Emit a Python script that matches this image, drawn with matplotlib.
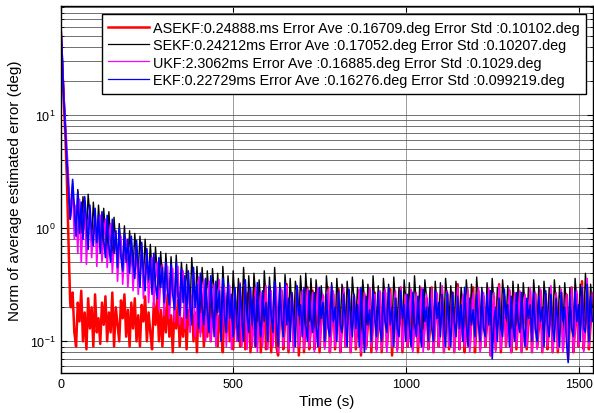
""" Error norm comparison of ASEKF / SEKF / UKF / EKF """
import matplotlib
matplotlib.use('Agg')
import matplotlib.pyplot as plt

plt.rcParams['font.family'] = ['Liberation Sans', 'DejaVu Sans']

# time axis (s)
time_s = [0, 2, 4, 6, 8, 10, 12, 14, 16, 18, 20, 22, 24, 26, 28,
          30, 35, 40, 45, 50, 55, 60, 65, 70, 75, 80, 85, 90, 95, 100, 105, 110, 115, 120, 125,
          130, 135, 140, 145, 150, 155, 160, 165, 170, 175, 180, 185, 190, 195, 200, 205, 210, 215, 220, 225,
          230, 235, 240, 245, 250, 255, 260, 265, 270, 275, 280, 285, 290, 295, 300, 305, 310, 315, 320, 325,
          330, 335, 340, 345, 350, 355, 360, 365, 370, 375, 380, 385, 390, 395, 400, 405, 410, 415, 420, 425,
          430, 435, 440, 445, 450, 455, 460, 465, 470, 475, 480, 485, 490, 495, 500, 505, 510, 515, 520, 525,
          530, 535, 540, 545, 550, 555, 560, 565, 570, 575, 580, 585, 590, 595, 600, 605, 610, 615, 620, 625,
          630, 635, 640, 645, 650, 655, 660, 665, 670, 675, 680, 685, 690, 695, 700, 705, 710, 715, 720, 725,
          730, 735, 740, 745, 750, 755, 760, 765, 770, 775, 780, 785, 790, 795, 800, 805, 810, 815, 820, 825,
          830, 835, 840, 845, 850, 855, 860, 865, 870, 875, 880, 885, 890, 895, 900, 905, 910, 915, 920, 925,
          930, 935, 940, 945, 950, 955, 960, 965, 970, 975, 980, 985, 990, 995, 1000, 1005, 1010, 1015, 1020, 1025,
          1030, 1035, 1040, 1045, 1050, 1055, 1060, 1065, 1070, 1075, 1080, 1085, 1090, 1095, 1100, 1105, 1110, 1115, 1120, 1125,
          1130, 1135, 1140, 1145, 1150, 1155, 1160, 1165, 1170, 1175, 1180, 1185, 1190, 1195, 1200, 1205, 1210, 1215, 1220, 1225,
          1230, 1235, 1240, 1245, 1250, 1255, 1260, 1265, 1270, 1275, 1280, 1285, 1290, 1295, 1300, 1305, 1310, 1315, 1320, 1325,
          1330, 1335, 1340, 1345, 1350, 1355, 1360, 1365, 1370, 1375, 1380, 1385, 1390, 1395, 1400, 1405, 1410, 1415, 1420, 1425,
          1430, 1435, 1440, 1445, 1450, 1455, 1460, 1465, 1470, 1475, 1480, 1485, 1490, 1495, 1500, 1505, 1510, 1515, 1520, 1525,
          1530, 1535, 1540]

asekf_err = [48, 40, 30, 22, 16, 12, 9.0, 6.5, 4.5, 3.0, 1.8, 1.0, 0.6, 0.35, 0.22,
             0.2, 0.27, 0.12, 0.09, 0.22, 0.15, 0.28, 0.1, 0.18, 0.085,
             0.24, 0.13, 0.2, 0.09, 0.26, 0.12, 0.16, 0.095, 0.22, 0.14,
             0.25, 0.1, 0.18, 0.12, 0.27, 0.09, 0.2, 0.14, 0.1, 0.23,
             0.16, 0.26, 0.11, 0.19, 0.09, 0.22, 0.13, 0.24, 0.1, 0.17,
             0.09, 0.21, 0.15, 0.25, 0.1, 0.18, 0.12, 0.085, 0.22, 0.14,
             0.24, 0.1, 0.19, 0.09, 0.2, 0.12, 0.26, 0.11, 0.17, 0.08,
             0.2, 0.13, 0.23, 0.09, 0.16, 0.11, 0.22, 0.085, 0.19, 0.14,
             0.25, 0.1, 0.18, 0.08, 0.21, 0.12, 0.24, 0.09, 0.17, 0.11,
             0.22, 0.1, 0.19, 0.13, 0.25, 0.09, 0.17, 0.12, 0.08, 0.21,
             0.15, 0.27, 0.1, 0.2, 0.085, 0.23, 0.13, 0.3, 0.09, 0.18,
             0.3, 0.085, 0.16, 0.27, 0.08, 0.14, 0.3, 0.09, 0.15, 0.26,
             0.08, 0.16, 0.29, 0.085, 0.14, 0.3, 0.08, 0.15, 0.27, 0.09,
             0.075, 0.16, 0.28, 0.085, 0.14, 0.32, 0.08, 0.15, 0.26, 0.09,
             0.16, 0.29, 0.075, 0.14, 0.28, 0.08, 0.15, 0.3, 0.085, 0.13,
             0.28, 0.085, 0.14, 0.29, 0.08, 0.16, 0.25, 0.09, 0.15, 0.3,
             0.08, 0.14, 0.26, 0.085, 0.16, 0.29, 0.08, 0.13, 0.27, 0.09,
             0.16, 0.28, 0.08, 0.15, 0.25, 0.085, 0.14, 0.28, 0.075, 0.16,
             0.26, 0.09, 0.14, 0.29, 0.08, 0.15, 0.27, 0.085, 0.13, 0.27,
             0.08, 0.15, 0.27, 0.09, 0.14, 0.29, 0.075, 0.16, 0.24, 0.085,
             0.14, 0.3, 0.08, 0.15, 0.26, 0.09, 0.13, 0.28, 0.085, 0.16,
             0.25, 0.08, 0.14, 0.29, 0.09, 0.15, 0.24, 0.085, 0.13, 0.3,
             0.08, 0.16, 0.26, 0.09, 0.14, 0.28, 0.08, 0.15, 0.26, 0.085,
             0.16, 0.27, 0.08, 0.14, 0.32, 0.085, 0.15, 0.24, 0.08, 0.13,
             0.26, 0.09, 0.16, 0.3, 0.08, 0.14, 0.28, 0.085, 0.15, 0.25,
             0.09, 0.14, 0.28, 0.075, 0.15, 0.25, 0.085, 0.16, 0.32, 0.08,
             0.14, 0.25, 0.09, 0.15, 0.28, 0.08, 0.13, 0.26, 0.085, 0.16,
             0.27, 0.08, 0.15, 0.24, 0.085, 0.14, 0.28, 0.08, 0.16, 0.26,
             0.09, 0.13, 0.28, 0.08, 0.15, 0.26, 0.085, 0.14, 0.28, 0.08,
             0.15, 0.25, 0.08, 0.14, 0.27, 0.085, 0.16, 0.26, 0.07, 0.15,
             0.3, 0.08, 0.13, 0.26, 0.09, 0.14, 0.34, 0.085, 0.15, 0.3,
             0.085, 0.14, 0.26]

sekf_err = [80, 60, 42, 30, 21, 15, 11, 8.0, 6.0, 4.5, 3.4, 2.6, 2.0, 1.6, 1.3,
            1.6, 2.5, 1.2, 0.95, 2.2, 1.4, 0.9, 1.9, 1.1, 0.8,
            2.0, 1.3, 0.75, 1.7, 1.0, 0.7, 1.6, 0.9, 0.68, 1.5,
            0.9, 0.62, 1.4, 0.8, 0.55, 1.25, 0.7, 0.5, 1.1, 0.65,
            0.48, 1.05, 0.6, 0.45, 0.95, 0.55, 0.42, 0.9, 0.52, 0.4,
            0.85, 0.5, 0.36, 0.8, 0.45, 0.33, 0.72, 0.42, 0.3, 0.68,
            0.4, 0.28, 0.62, 0.36, 0.27, 0.6, 0.34, 0.25, 0.56, 0.32,
            0.23, 0.58, 0.3, 0.22, 0.5, 0.32, 0.2, 0.48, 0.28, 0.19,
            0.55, 0.3, 0.2, 0.46, 0.26, 0.18, 0.45, 0.27, 0.17, 0.42,
            0.25, 0.16, 0.44, 0.28, 0.17, 0.4, 0.22, 0.15, 0.46, 0.26,
            0.16, 0.38, 0.24, 0.15, 0.42, 0.22, 0.14, 0.36, 0.25, 0.15,
            0.45, 0.24, 0.14, 0.38, 0.2, 0.13, 0.4, 0.26, 0.15, 0.35,
            0.22, 0.13, 0.42, 0.24, 0.14, 0.37, 0.2, 0.16, 0.45, 0.23,
            0.14, 0.33, 0.21, 0.13, 0.39, 0.25, 0.15, 0.36, 0.2, 0.12,
            0.34, 0.27, 0.14, 0.38, 0.22, 0.13, 0.4, 0.24, 0.15, 0.36,
            0.21, 0.13, 0.35, 0.23, 0.14, 0.31, 0.2, 0.13, 0.38, 0.24,
            0.15, 0.33, 0.2, 0.12, 0.36, 0.22, 0.14, 0.32, 0.25, 0.13,
            0.34, 0.21, 0.13, 0.37, 0.23, 0.15, 0.3, 0.2, 0.12, 0.35,
            0.24, 0.14, 0.32, 0.21, 0.13, 0.38, 0.22, 0.15, 0.31, 0.19,
            0.13, 0.36, 0.24, 0.14, 0.32, 0.2, 0.13, 0.37, 0.22, 0.15,
            0.3, 0.21, 0.12, 0.35, 0.23, 0.14, 0.33, 0.2, 0.13, 0.38,
            0.22, 0.14, 0.31, 0.2, 0.13, 0.35, 0.24, 0.15, 0.3, 0.21,
            0.12, 0.34, 0.22, 0.14, 0.33, 0.2, 0.13, 0.36, 0.23, 0.15,
            0.31, 0.2, 0.13, 0.34, 0.22, 0.14, 0.3, 0.21, 0.12, 0.35,
            0.23, 0.15, 0.32, 0.2, 0.13, 0.37, 0.22, 0.14, 0.3, 0.2,
            0.12, 0.33, 0.21, 0.14, 0.36, 0.22, 0.13, 0.3, 0.2, 0.12,
            0.35, 0.23, 0.15, 0.31, 0.21, 0.13, 0.34, 0.2, 0.14, 0.32,
            0.22, 0.13, 0.33, 0.21, 0.14, 0.3, 0.2, 0.12, 0.35, 0.23,
            0.15, 0.31, 0.21, 0.13, 0.34, 0.22, 0.14, 0.3, 0.2, 0.13,
            0.35, 0.22, 0.14, 0.31, 0.2, 0.13, 0.33, 0.21, 0.12, 0.3,
            0.2, 0.13, 0.36, 0.23, 0.14, 0.32, 0.21, 0.15, 0.4, 0.22,
            0.14, 0.32, 0.2]

ukf_err = [75, 55, 40, 28, 20, 15, 11, 9.0, 7.0, 5.5, 4.2, 3.2, 2.5, 2.0, 1.5,
           1.4, 2.3, 0.8, 1.6, 0.6, 1.8, 0.5, 1.2, 1.7, 0.48,
           1.1, 1.5, 0.55, 0.9, 1.4, 0.46, 1.0, 1.3, 0.5, 0.85,
           1.2, 0.45, 0.8, 1.1, 0.4, 0.7, 0.95, 0.34, 0.65, 0.85,
           0.32, 0.6, 0.8, 0.3, 0.55, 0.75, 0.28, 0.5, 0.7, 0.26,
           0.45, 0.68, 0.24, 0.42, 0.6, 0.22, 0.38, 0.55, 0.2, 0.35,
           0.5, 0.19, 0.33, 0.48, 0.17, 0.3, 0.46, 0.16, 0.28, 0.44,
           0.15, 0.27, 0.46, 0.14, 0.25, 0.42, 0.13, 0.23, 0.4, 0.12,
           0.22, 0.41, 0.11, 0.2, 0.37, 0.11, 0.19, 0.35, 0.1, 0.18,
           0.34, 0.1, 0.17, 0.32, 0.09, 0.18, 0.35, 0.1, 0.16, 0.3,
           0.09, 0.17, 0.31, 0.085, 0.15, 0.29, 0.1, 0.16, 0.33, 0.09,
           0.15, 0.32, 0.085, 0.16, 0.29, 0.09, 0.14, 0.3, 0.08, 0.15,
           0.27, 0.09, 0.16, 0.31, 0.085, 0.14, 0.28, 0.09, 0.15, 0.3,
           0.08, 0.14, 0.29, 0.09, 0.16, 0.31, 0.085, 0.13, 0.27, 0.08,
           0.15, 0.3, 0.09, 0.14, 0.28, 0.085, 0.16, 0.29, 0.09, 0.13,
           0.27, 0.08, 0.15, 0.3, 0.09, 0.14, 0.26, 0.085, 0.16, 0.29,
           0.08, 0.13, 0.28, 0.09, 0.15, 0.27, 0.08, 0.14, 0.3, 0.09,
           0.15, 0.28, 0.08, 0.14, 0.26, 0.09, 0.16, 0.29, 0.08, 0.13,
           0.27, 0.085, 0.15, 0.3, 0.09, 0.14, 0.26, 0.08, 0.15, 0.28,
           0.085, 0.14, 0.29, 0.08, 0.16, 0.27, 0.09, 0.13, 0.28, 0.08,
           0.15, 0.3, 0.085, 0.14, 0.26, 0.09, 0.15, 0.29, 0.08, 0.14,
           0.27, 0.09, 0.15, 0.3, 0.08, 0.13, 0.26, 0.085, 0.16, 0.29,
           0.08, 0.14, 0.27, 0.09, 0.15, 0.31, 0.08, 0.13, 0.28, 0.09,
           0.14, 0.27, 0.08, 0.16, 0.3, 0.085, 0.13, 0.26, 0.09, 0.15,
           0.29, 0.08, 0.14, 0.27, 0.09, 0.16, 0.3, 0.08, 0.13, 0.27,
           0.09, 0.15, 0.3, 0.075, 0.14, 0.27, 0.08, 0.16, 0.31, 0.085,
           0.13, 0.26, 0.09, 0.15, 0.29, 0.08, 0.14, 0.27, 0.09, 0.15,
           0.28, 0.08, 0.14, 0.26, 0.09, 0.16, 0.3, 0.08, 0.13, 0.27,
           0.085, 0.15, 0.29, 0.08, 0.14, 0.26, 0.09, 0.16, 0.31, 0.08,
           0.13, 0.27, 0.085, 0.15, 0.29, 0.08, 0.14, 0.26, 0.075, 0.16,
           0.3, 0.08, 0.13, 0.28, 0.09, 0.15, 0.31, 0.08, 0.14, 0.36,
           0.09, 0.16, 0.27]

ekf_err = [70, 52, 38, 26, 18, 13, 10, 7.5, 5.5, 4.2, 3.2, 2.5, 2.0, 1.5, 1.2,
           1.3, 2.7, 1.5, 0.85, 2.1, 0.9, 1.7, 0.8, 1.9, 1.2,
           0.65, 1.6, 0.9, 0.7, 1.5, 0.75, 1.3, 0.6, 1.4, 0.8,
           0.55, 1.3, 0.7, 0.5, 1.2, 0.6, 0.95, 0.45, 1.0, 0.55,
           0.42, 0.9, 0.5, 0.8, 0.4, 0.85, 0.48, 0.36, 0.78, 0.45,
           0.3, 0.75, 0.4, 0.28, 0.66, 0.35, 0.55, 0.26, 0.6, 0.32,
           0.24, 0.55, 0.3, 0.45, 0.22, 0.5, 0.28, 0.21, 0.48, 0.26,
           0.19, 0.5, 0.25, 0.17, 0.44, 0.22, 0.38, 0.16, 0.42, 0.21,
           0.14, 0.45, 0.2, 0.32, 0.13, 0.4, 0.2, 0.14, 0.36, 0.18,
           0.12, 0.38, 0.2, 0.11, 0.34, 0.18, 0.28, 0.1, 0.36, 0.17,
           0.12, 0.33, 0.16, 0.26, 0.11, 0.3, 0.15, 0.1, 0.32, 0.16,
           0.1, 0.35, 0.17, 0.12, 0.3, 0.14, 0.25, 0.09, 0.33, 0.16,
           0.11, 0.28, 0.15, 0.22, 0.1, 0.31, 0.17, 0.12, 0.34, 0.15,
           0.09, 0.3, 0.16, 0.11, 0.33, 0.14, 0.24, 0.1, 0.27, 0.15,
           0.09, 0.31, 0.17, 0.21, 0.11, 0.3, 0.14, 0.1, 0.28, 0.16,
           0.12, 0.27, 0.14, 0.09, 0.3, 0.16, 0.22, 0.1, 0.26, 0.13,
           0.11, 0.31, 0.15, 0.2, 0.1, 0.28, 0.14, 0.12, 0.26, 0.15,
           0.09, 0.29, 0.16, 0.11, 0.26, 0.13, 0.21, 0.09, 0.3, 0.15,
           0.08, 0.25, 0.14, 0.19, 0.1, 0.28, 0.16, 0.11, 0.27, 0.13,
           0.1, 0.27, 0.15, 0.12, 0.3, 0.14, 0.2, 0.09, 0.24, 0.13,
           0.11, 0.28, 0.16, 0.21, 0.1, 0.26, 0.14, 0.09, 0.27, 0.15,
           0.11, 0.25, 0.14, 0.09, 0.29, 0.15, 0.2, 0.1, 0.24, 0.13,
           0.1, 0.28, 0.16, 0.22, 0.11, 0.26, 0.13, 0.09, 0.27, 0.14,
           0.09, 0.27, 0.15, 0.11, 0.25, 0.13, 0.21, 0.1, 0.3, 0.15,
           0.09, 0.24, 0.14, 0.19, 0.11, 0.26, 0.15, 0.1, 0.28, 0.13,
           0.11, 0.26, 0.14, 0.28, 0.07, 0.15, 0.2, 0.1, 0.24, 0.13,
           0.11, 0.29, 0.16, 0.21, 0.09, 0.25, 0.14, 0.1, 0.27, 0.15,
           0.12, 0.27, 0.14, 0.09, 0.24, 0.16, 0.21, 0.1, 0.27, 0.13,
           0.1, 0.25, 0.15, 0.2, 0.09, 0.28, 0.14, 0.11, 0.26, 0.13,
           0.1, 0.24, 0.14, 0.09, 0.27, 0.15, 0.2, 0.1, 0.065, 0.25,
           0.13, 0.11, 0.28, 0.15, 0.21, 0.1, 0.3, 0.13, 0.12, 0.32,
           0.1, 0.25, 0.15]

labels = ['ASEKF:0.24888.ms Error Ave :0.16709.deg Error Std :0.10102.deg',
          'SEKF:0.24212ms Error Ave :0.17052.deg Error Std :0.10207.deg',
          'UKF:2.3062ms Error Ave :0.16885.deg Error Std :0.1029.deg',
          'EKF:0.22729ms Error Ave :0.16276.deg Error Std :0.099219.deg']

fig = plt.figure(figsize=(5.94, 4.14), dpi=100)
ax = fig.add_axes([0.1019, 0.0966, 0.8965, 0.8864])

ax.plot(time_s, asekf_err, color='red', lw=1.8, label=labels[0])
ax.plot(time_s, sekf_err, color='black', lw=1.0, label=labels[1])
ax.plot(time_s, ukf_err, color='magenta', lw=1.2, label=labels[2])
ax.plot(time_s, ekf_err, color='blue', lw=1.2, label=labels[3])

ax.set_yscale('log')
ax.set_xlim(0, 1542)
ax.set_ylim(0.0525, 92)
ax.set_xticks([0, 500, 1000, 1500])

ax.grid(True, which='major', axis='x', color='0.55', lw=0.6)
ax.grid(True, which='both', axis='y', color='0.35', lw=0.6)
ax.set_axisbelow(True)

ax.tick_params(which='both', direction='in', top=True, right=True, labelsize=9)
ax.tick_params(which='major', length=4)
ax.tick_params(which='minor', length=2)
for s in ax.spines.values():
    s.set_linewidth(1.0)

ax.set_xlabel('Time (s)', fontsize=11, labelpad=3)
ax.set_ylabel('Norm of average estimated error (deg)', fontsize=11, labelpad=6)

leg = ax.legend(loc='upper right', bbox_to_anchor=(0.987, 0.978), borderaxespad=0,
                fontsize=10.4, fancybox=False, framealpha=1, edgecolor='black',
                handlelength=2.8, handletextpad=0.3, labelspacing=0.24,
                borderpad=0.45)
leg.get_frame().set_linewidth(1.0)
for h in leg.get_lines():
    h.set_linewidth(0.9)
leg.get_lines()[0].set_linewidth(1.8)

plt.savefig('out.png', dpi=100)
